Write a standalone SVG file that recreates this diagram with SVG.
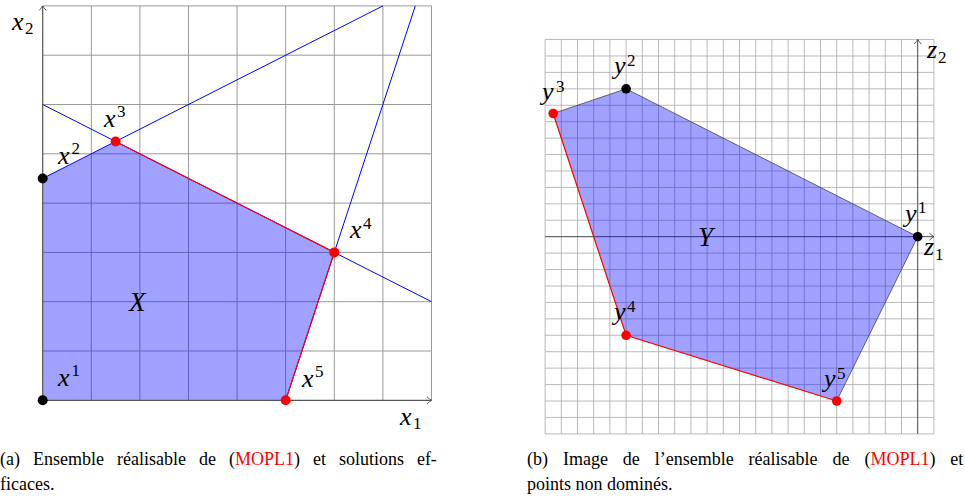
<svg xmlns="http://www.w3.org/2000/svg" width="965" height="497" viewBox="0 0 965 497">
<style>
.gridL{stroke:#9a9a9a;stroke-width:1;fill:none}
.gridR{stroke:#a8a8a8;stroke-width:0.8;fill:none}
.fill{fill:#0000ff;fill-opacity:0.37;stroke:none}
.blue{stroke:#0000ff;stroke-width:1;fill:none}
.red{stroke:#ff0000;stroke-width:1.2;fill:none}
.edge{stroke:#444;stroke-width:0.8;fill:none}
.axL{stroke:#555;stroke-width:1.2;fill:none}
.axR{stroke:#333;stroke-width:0.9;fill:none}
.m{font-family:"Liberation Serif","DejaVu Serif",serif;font-style:italic;font-size:26px;fill:#000}
.big{font-size:27px}
.s{font-family:"Liberation Serif","DejaVu Serif",serif;font-size:17px;fill:#000}
.cap{font-family:"Liberation Serif","DejaVu Serif",serif;font-size:18px;fill:#000}
.rt{fill:#ff0000}
.dk{fill:#000}
.dr{fill:#ff0000}
</style>
<defs>
<marker id="arr" markerUnits="userSpaceOnUse" markerWidth="10" markerHeight="10" viewBox="-6 -5 8 10" refX="0" refY="0" orient="auto">
<path d="M-4.5,-3.5 Q-1.5,-0.8 0,0 Q-1.5,0.8 -4.5,3.5" fill="none" stroke="#444" stroke-width="0.9"/>
</marker>
</defs>

<!-- Panel (a) -->
<g id="panelA">
<path class="gridL" d="M91.3 5.9V400.3M139.9 5.9V400.3M188.5 5.9V400.3M237.1 5.9V400.3M285.7 5.9V400.3M334.3 5.9V400.3M382.9 5.9V400.3M431.5 5.9V400.3M42.7 5.9H431.5M42.7 55.2H431.5M42.7 104.5H431.5M42.7 153.8H431.5M42.7 203.1H431.5M42.7 252.4H431.5M42.7 301.7H431.5M42.7 351H431.5"/>
<g id="regionX"><path class="fill" d="M42.7 400.3L42.7 178.45L115.6 141.5L334.3 252.4L285.7 400.3Z"/></g>
<g id="connectorsA">
<path class="blue" d="M42.7 178.45L382.9 5.9"/>
<path class="blue" d="M42.7 104.5L431.5 301.7"/>
<path class="blue" d="M285.7 400.3L415.3 5.9"/>
<path class="axL" d="M42.7 400.3H431.5" marker-end="url(#arr)"/>
<path class="axL" d="M42.7 400.3V5.9" marker-end="url(#arr)"/>
<path class="red" d="M115.6 141.5L334.3 252.4L285.7 400.3"/>
</g>
<g id="x1"><circle class="dk" cx="42.7" cy="400.3" r="5"/><text class="m" x="58" y="386">x</text><text class="s" x="71.5" y="376">1</text></g>
<g id="x2"><circle class="dk" cx="42.7" cy="178.45" r="5"/><text class="m" x="58" y="164">x</text><text class="s" x="71.5" y="154">2</text></g>
<g id="x3"><circle class="dr" cx="115.6" cy="141.5" r="5"/><text class="m" x="104" y="127">x</text><text class="s" x="117" y="117">3</text></g>
<g id="x4"><circle class="dr" cx="334.3" cy="252.4" r="5"/><text class="m" x="350" y="238">x</text><text class="s" x="363" y="229">4</text></g>
<g id="x5"><circle class="dr" cx="285.7" cy="400.3" r="5"/><text class="m" x="302" y="387">x</text><text class="s" x="315" y="377">5</text></g>
<g id="labelsA">
<text class="m" x="12" y="30">x</text><text class="s" x="25" y="34">2</text>
<text class="m" x="400" y="425">x</text><text class="s" x="413" y="429">1</text>
<text class="m big" x="129" y="311">X</text>
</g>
</g>

<!-- Panel (b) -->
<g id="panelB">
<path class="gridR" d="M545.1 39.54V433.86M561.3 39.54V433.86M577.5 39.54V433.86M593.7 39.54V433.86M609.9 39.54V433.86M626.1 39.54V433.86M642.3 39.54V433.86M658.5 39.54V433.86M674.7 39.54V433.86M690.9 39.54V433.86M707.1 39.54V433.86M723.3 39.54V433.86M739.5 39.54V433.86M755.7 39.54V433.86M771.9 39.54V433.86M788.1 39.54V433.86M804.3 39.54V433.86M820.5 39.54V433.86M836.7 39.54V433.86M852.9 39.54V433.86M869.1 39.54V433.86M885.3 39.54V433.86M901.5 39.54V433.86M933.9 39.54V433.86M545.1 39.54H933.9M545.1 55.97H933.9M545.1 72.4H933.9M545.1 88.83H933.9M545.1 105.26H933.9M545.1 121.69H933.9M545.1 138.12H933.9M545.1 154.55H933.9M545.1 170.98H933.9M545.1 187.41H933.9M545.1 203.84H933.9M545.1 220.27H933.9M545.1 253.13H933.9M545.1 269.56H933.9M545.1 285.99H933.9M545.1 302.42H933.9M545.1 318.85H933.9M545.1 335.28H933.9M545.1 351.71H933.9M545.1 368.14H933.9M545.1 384.57H933.9M545.1 401H933.9M545.1 417.43H933.9M545.1 433.86H933.9"/>
<g id="connectorsB">
<path class="axR" d="M545.1 236.7H933.9" marker-end="url(#arr)"/>
<path class="axR" d="M917.7 433.86V39.54" marker-end="url(#arr)"/>
</g>
<g id="regionY"><path class="fill" d="M553.2 113.5L626.1 88.8L917.7 236.7L836.7 401L626.1 335.3Z"/></g>
<g id="edgesB">
<path class="edge" d="M553.2 113.5L626.1 88.8L917.7 236.7L836.7 401"/>
<path class="red" d="M836.7 401L626.1 335.3L553.2 113.5"/>
</g>
<g id="y1"><circle class="dk" cx="917.7" cy="236.7" r="4.8"/><text class="m" x="905" y="222">y</text><text class="s" x="918" y="213">1</text></g>
<g id="y2"><circle class="dk" cx="626.1" cy="88.8" r="4.8"/><text class="m" x="614" y="74">y</text><text class="s" x="627" y="66">2</text></g>
<g id="y3"><circle class="dr" cx="553.2" cy="113.5" r="4.8"/><text class="m" x="542" y="100">y</text><text class="s" x="556" y="92">3</text></g>
<g id="y4"><circle class="dr" cx="626.1" cy="335.3" r="4.8"/><text class="m" x="614" y="320">y</text><text class="s" x="627" y="312">4</text></g>
<g id="y5"><circle class="dr" cx="836.7" cy="401" r="4.8"/><text class="m" x="824" y="387">y</text><text class="s" x="837" y="379">5</text></g>
<g id="labelsB">
<text class="m" x="927" y="58">z</text><text class="s" x="938" y="63">2</text>
<text class="m" x="924" y="255">z</text><text class="s" x="935" y="260">1</text>
<text class="m big" x="698" y="246">Y</text>
</g>
</g>

<!-- Captions -->
<g id="captionA" class="cap">
<text y="465"><tspan x="0">(a)</tspan><tspan x="33">Ensemble</tspan><tspan x="117">réalisable</tspan><tspan x="199">de</tspan><tspan x="228.9">(</tspan><tspan class="rt">MOPL1</tspan><tspan>)</tspan><tspan x="312.9">et</tspan><tspan x="338.9">solutions</tspan><tspan x="416.9">ef-</tspan></text>
<text x="0" y="490">ficaces.</text>
</g>
<g id="captionB" class="cap">
<text y="465"><tspan x="527">(b)</tspan><tspan x="562.9">Image</tspan><tspan x="622.8">de</tspan><tspan x="654.7">l’ensemble</tspan><tspan x="748.6">réalisable</tspan><tspan x="832.5">de</tspan><tspan x="864.4">(</tspan><tspan class="rt">MOPL1</tspan><tspan>)</tspan><tspan x="950.3">et</tspan></text>
<text x="527" y="490">points non dominés.</text>
</g>
</svg>
